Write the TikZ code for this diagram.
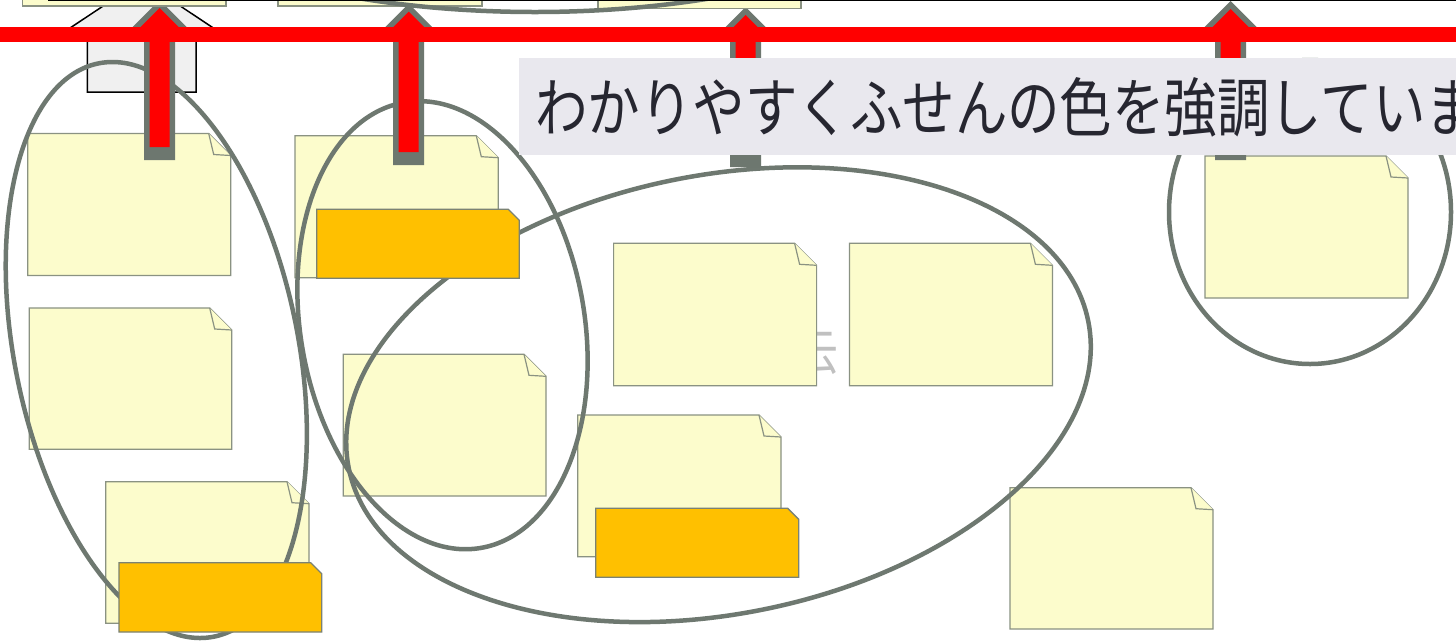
\documentclass[tikz,border=0pt]{standalone}
\usepackage{fontspec}
\newfontfamily\jpfont{Noto Sans CJK JP}
\definecolor{notefill}{RGB}{252,252,204}
\definecolor{noteline}{RGB}{138,146,130}
\definecolor{tagfill}{RGB}{255,192,0}
\definecolor{tagline}{RGB}{122,130,116}
\definecolor{ovalgray}{RGB}{110,120,112}
\definecolor{arrowgray}{RGB}{109,119,111}
\definecolor{housefill}{RGB}{240,240,240}
\definecolor{labelfill}{RGB}{233,232,238}
\definecolor{labeltext}{RGB}{38,38,48}
\definecolor{ghostgray}{RGB}{192,192,192}
\definecolor{bandred}{RGB}{255,0,0}
\tikzset{
  notestyle/.style={fill=notefill, draw=noteline, line width=1.2pt, line join=miter},
  tagstyle/.style={fill=tagfill, draw=tagline, line width=1.3pt},
  ovalstyle/.style={draw=ovalgray, line width=4.5pt},
  housestyle/.style={fill=housefill, draw=black, line width=1.5pt},
}
% sticky note: x1,y1 (top left), x2,y2 (bottom right)
\newcommand\snote[4]{%
  \filldraw[notestyle] (#1,#2) -- ({#3-22},#2) -- (#3,{#2+22}) -- (#3,#4) -- (#1,#4) -- cycle;
  \filldraw[notestyle] ({#3-22},#2) -- ({#3-17},{#2+21}) -- (#3,{#2+22});
}
% orange tag
\newcommand\otag[4]{%
  \filldraw[tagstyle] (#1,#2) -- ({#3-11},#2) -- (#3,{#2+11}) -- (#3,#4) -- (#1,#4) -- cycle;
}
% block arrow: centre x, outer apex y, outer bottom, inner bottom
\newcommand\blockarr[4]{%
  \fill[arrowgray] (#1,#2) -- ({#1+38-(#2)},38) -- ({#1+15.5},38) -- ({#1+15.5},#3)
    -- ({#1-15.5},#3) -- ({#1-15.5},38) -- ({#1-38+(#2)},38) -- cycle;
  \fill[bandred] (#1,{#2+8}) -- ({#1+30-(#2)},38) -- ({#1+10},38) -- ({#1+10},#4)
    -- ({#1-10},#4) -- ({#1-10},38) -- ({#1-30+(#2)},38) -- cycle;
}
\begin{document}
\begin{tikzpicture}[x=1pt,y=-1pt]
\useasboundingbox (0,0) rectangle (1456,641);
\clip (0,0) rectangle (1456,641);
\fill[white] (0,0) rectangle (1456,641);

% house shape
\filldraw[housestyle] (87.3,92) -- (87.3,36) -- (58,36) -- (141.7,-19.6) -- (225.4,36)
  -- (196,36) -- (196,92) -- cycle;

% ghost text behind notes
\node[anchor=base east, inner sep=0pt, xscale=0.82, text=ghostgray,
  font=\jpfont\fontsize{50}{50}\selectfont] (ghost) at (839,370) {云};

% lower sticky notes
\snote{27.7}{133.5}{230.7}{275.5}
\snote{29.3}{308}{231.7}{449.2}
\snote{105.7}{481.7}{309}{623.3}
\snote{295}{135.7}{498.3}{277.7}
\snote{343.3}{354.3}{546}{496}
\snote{613.6}{243.3}{816.6}{385.7}
\snote{849.4}{243.3}{1052.4}{385.7}
\snote{577.7}{415}{781}{556.7}
\snote{1010}{487.7}{1213}{629}
\snote{1205}{156}{1408}{298}

% ovals
\draw[ovalstyle, rotate around={11.4:(156.3,350)}] (156.3,350) ellipse [x radius=141.8, y radius=292.4];
\draw[ovalstyle, rotate around={9.8:(442.5,325.2)}] (442.5,325.2) ellipse [x radius=142, y radius=226];
\draw[ovalstyle, rotate around={11.2:(718.5,394.7)}] (718.5,394.7) ellipse [x radius=377, y radius=219.4];
\draw[ovalstyle] (1310,212) ellipse [x radius=141, y radius=152];

% orange tags
\otag{316.7}{209.3}{519.3}{278.3}
\otag{119}{562.7}{321.7}{632}
\otag{595.7}{508.3}{798.7}{577.3}

% block arrows
\blockarr{159.7}{0}{160}{147}
\blockarr{408.7}{3.7}{165}{152}
\blockarr{745.5}{7}{167}{154}
\blockarr{1230.7}{1}{160}{147}

% top sticky notes (cut off)
\filldraw[notestyle] (22.3,-140) rectangle (226,6);
\filldraw[notestyle] (278,-140) rectangle (482,6);
\filldraw[notestyle] (598,-140) rectangle (801,8.3);

% top oval
\draw[ovalstyle] (535,-178) ellipse [x radius=470, y radius=190];

% red band
\fill[bandred] (-5,26.5) rectangle (1461,42.3);

% top black line
\draw[black, line width=1.4pt] (48,0.6) -- (1460,0.6);

% label box
\fill[labelfill] (519,57.7) rectangle (1470,155);
\node[anchor=base west, inner sep=0pt, xscale=0.82, text=labeltext,
  font=\jpfont\fontsize{64}{70}\selectfont] (label) at (535,131) {わかりやすくふせんの色を強調しています};
\end{tikzpicture}
\end{document}
